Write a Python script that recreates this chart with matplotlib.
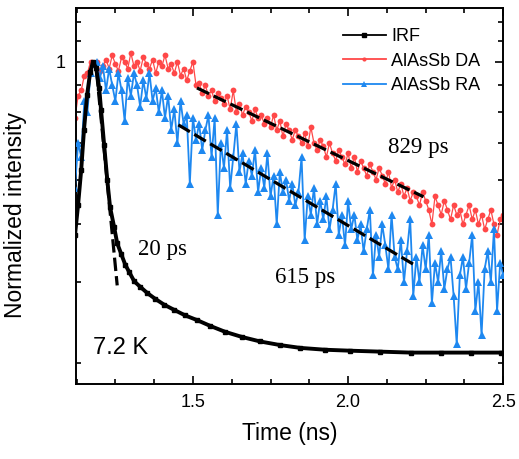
import numpy as np
import matplotlib
matplotlib.use('Agg')
import matplotlib.pyplot as plt
from matplotlib.ticker import FixedLocator, FixedFormatter, NullFormatter
from matplotlib.lines import Line2D

# time grid of the traces (ns)
t_start = 1.12
t_step = 0.01

# AlAsSb DA trace (normalized)
da = [0.78, 0.86, 0.88, 0.94, 0.95, 1.0, 0.99, 1.0, 0.96, 0.98,
      1.01, 0.97, 1.03, 0.99, 0.96, 1.02, 1.0, 0.97, 1.04, 0.98,
      1.0, 0.96, 1.02, 0.99, 0.97, 1.01, 0.95, 1.0, 0.98, 1.03,
      0.97, 0.99, 0.95, 1.0, 0.94, 0.97, 0.92, 0.96, 1.0, 0.90,
      0.91, 0.87, 0.90, 0.86, 0.88, 0.84, 0.87, 0.85, 0.83, 0.86,
      0.81, 0.88, 0.80, 0.83, 0.79, 0.82, 0.80, 0.77, 0.81, 0.78,
      0.79, 0.76, 0.78, 0.75, 0.79, 0.74, 0.77, 0.72, 0.76, 0.74,
      0.71, 0.74, 0.72, 0.70, 0.73, 0.69, 0.75, 0.70, 0.68, 0.71,
      0.69, 0.66, 0.70, 0.67, 0.65, 0.68, 0.66, 0.64, 0.67, 0.63,
      0.66, 0.62, 0.65, 0.63, 0.61, 0.64, 0.62, 0.60, 0.63, 0.61,
      0.59, 0.62, 0.58, 0.60, 0.57, 0.59, 0.56, 0.58, 0.55, 0.57,
      0.56, 0.54, 0.57, 0.55, 0.53, 0.50, 0.56, 0.54, 0.52, 0.55,
      0.53, 0.51, 0.54, 0.52, 0.53, 0.50, 0.52, 0.54, 0.51, 0.53,
      0.50, 0.52, 0.49, 0.51, 0.53, 0.50, 0.48, 0.51, 0.52]

# AlAsSb RA trace (normalized)
ra = [0.58, 0.70, 0.66, 0.84, 0.80, 0.95, 0.99, 1.0, 0.93, 0.98,
      0.88, 0.97, 0.90, 0.84, 0.95, 0.88, 0.77, 0.93, 0.86, 0.95,
      0.90, 0.82, 0.92, 0.85, 0.95, 0.84, 0.89, 0.80, 0.88, 0.78,
      0.86, 0.74, 0.81, 0.70, 0.84, 0.76, 0.79, 0.59, 0.78, 0.71,
      0.76, 0.68, 0.74, 0.79, 0.66, 0.78, 0.52, 0.70, 0.63, 0.74,
      0.58, 0.66, 0.76, 0.62, 0.67, 0.59, 0.65, 0.61, 0.68, 0.57,
      0.63, 0.58, 0.67, 0.56, 0.61, 0.50, 0.62, 0.57, 0.60, 0.55,
      0.59, 0.54, 0.57, 0.66, 0.47, 0.56, 0.52, 0.58, 0.50, 0.55,
      0.51, 0.56, 0.49, 0.53, 0.59, 0.48, 0.52, 0.46, 0.55, 0.49,
      0.52, 0.47, 0.50, 0.45, 0.49, 0.53, 0.41, 0.48, 0.44, 0.50,
      0.46, 0.42, 0.52, 0.44, 0.42, 0.47, 0.40, 0.45, 0.51, 0.38,
      0.44, 0.40, 0.46, 0.42, 0.48, 0.37, 0.43, 0.40, 0.45, 0.39,
      0.42, 0.44, 0.38, 0.32, 0.41, 0.44, 0.39, 0.43, 0.48, 0.36,
      0.40, 0.33, 0.42, 0.45, 0.40, 0.49, 0.36, 0.43, 0.41]

# instrument response function
irf_t = [1.120, 1.130, 1.140, 1.149, 1.159, 1.169, 1.178, 1.188, 1.198, 1.204,
         1.214, 1.224, 1.233, 1.246, 1.256, 1.269, 1.282, 1.295, 1.311, 1.330,
         1.353, 1.378, 1.407, 1.440, 1.475, 1.514, 1.556, 1.604, 1.659, 1.717,
         1.782, 1.846, 1.927, 2.007, 2.104, 2.202, 2.298, 2.395, 2.492]
irf = [0.479, 0.541, 0.625, 0.741, 0.863, 0.955, 1.0, 0.973, 0.89, 0.807,
       0.694, 0.599, 0.536, 0.495, 0.464, 0.445, 0.427, 0.415, 0.401, 0.393,
       0.384, 0.376, 0.368, 0.361, 0.354, 0.348, 0.341, 0.334, 0.328, 0.323,
       0.319, 0.316, 0.314, 0.313, 0.312, 0.311, 0.311, 0.311, 0.311]

# exponential fits (end points)
irf_fit_t = [1.19, 1.256]
irf_fit = [0.95, 0.395]
da_fit_t = [1.513, 2.243]
da_fit = [0.89, 0.559]
ra_fit_t = [1.453, 2.223]
ra_fit = [0.757, 0.424]

t = t_start + t_step * np.arange(len(da))

plt.rcParams['font.family'] = ['Liberation Sans', 'DejaVu Sans']
red = '#ff4848'
blue = '#1e88f0'

fig = plt.figure(figsize=(5.19, 4.59), dpi=100)
ax = fig.add_axes([0.1457, 0.1634, 0.824, 0.8192])

# y axis of the original: log spacing of (I - 0.1)
ax.set_yscale('function', functions=(lambda v: np.log10(np.clip(v - 0.1, 1e-3, None)),
                                     lambda y: 10 ** y + 0.1))

ax.plot(t, da, '-o', color=red, lw=0.9, ms=4.2, mew=0, zorder=2)
ax.plot(t, ra, '-^', color=blue, lw=1.3, ms=5.5, mew=0, zorder=3)
ax.plot(irf_t, irf, '-s', color='black', lw=2.8, ms=2.5, zorder=4)

dash = (0, (4.2, 1.6))
for ft, fv in [(irf_fit_t, irf_fit), (da_fit_t, da_fit), (ra_fit_t, ra_fit)]:
    ax.plot(ft, fv, color='black', lw=2.3, linestyle=dash, zorder=5)

ax.set_xlim(1.122, 2.5)
ax.set_ylim(0.2804, 1.277)

ax.xaxis.set_major_locator(FixedLocator([1.5, 2.0, 2.5]))
ax.xaxis.set_minor_locator(FixedLocator([1.125, 1.25, 1.375, 1.625, 1.75, 1.875, 2.125, 2.25, 2.375]))
ax.set_xticklabels(['1.5', '2.0', '2.5'])
ax.yaxis.set_major_locator(FixedLocator([1.0]))
ax.yaxis.set_major_formatter(FixedFormatter(['1']))
ax.yaxis.set_minor_locator(FixedLocator([0.3, 0.4, 0.5, 0.6, 0.7, 0.8, 0.9, 1.1, 1.2]))
ax.yaxis.set_minor_formatter(NullFormatter())

ax.tick_params(which='both', direction='in', top=True, right=True, width=1.2, labelsize=13, pad=7)
ax.tick_params(which='major', length=5.5)
ax.tick_params(which='minor', length=3.5)
for s in ax.spines.values():
    s.set_linewidth(1.4)

ax.set_xlabel('Time (ns)', fontsize=16.5, labelpad=8)
ax.set_ylabel('Normalized intensity', fontsize=16.5)
ax.yaxis.set_label_coords(-0.114, 0.449)

serif = ['Liberation Serif', 'DejaVu Serif']
W, H = 519, 459
fig.text(418 / W, 1 - 147 / H, '829 ps', fontsize=16.5, family=serif, ha='center', va='center')
fig.text(162 / W, 1 - 250 / H, '20 ps', fontsize=16.5, family=serif, ha='center', va='center')
fig.text(305 / W, 1 - 278 / H, '615 ps', fontsize=16.5, family=serif, ha='center', va='center')
fig.text(121 / W, 1 - 348 / H, '7.2 K', fontsize=17, ha='center', va='center')

handles = [Line2D([], [], color='black', marker='s', lw=1.3, ms=3),
           Line2D([], [], color=red, marker='o', lw=1.3, ms=3, mew=0),
           Line2D([], [], color=blue, marker='^', lw=1.3, ms=5, mew=0)]
ax.legend(handles, ['IRF', 'AlAsSb DA', 'AlAsSb RA'], loc='upper right', frameon=False,
          fontsize=13, handlelength=2.4, handletextpad=0.3, labelspacing=0.42,
          bbox_to_anchor=(0.985, 0.99))

fig.savefig('out.png', dpi=100)
